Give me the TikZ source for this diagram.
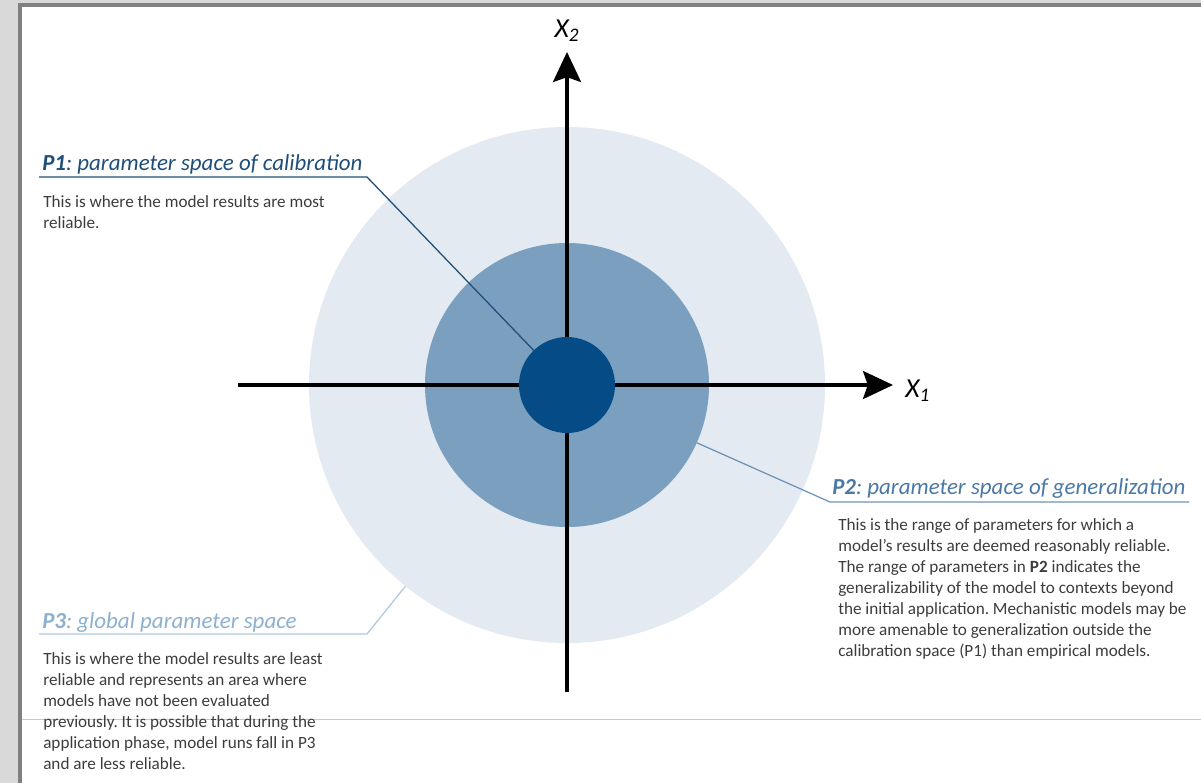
\documentclass[tikz,border=0pt]{standalone}
\usepackage{fontspec}
\setmainfont{Carlito}
\frenchspacing
\usetikzlibrary{
	positioning		% Allows 5px above/below of x style positioning
	, arrows.meta		% Stealth tips on the two axes
}

\definecolor{framelight}{RGB}{217,217,217}
\definecolor{framedark}{RGB}{128,128,128}
\definecolor{framerule}{RGB}{200,200,200}
\definecolor{globalfill}{RGB}{228,234,241}
\definecolor{genfill}{RGB}{123,160,191}
\definecolor{calfill}{RGB}{5,75,133}
\definecolor{p1blue}{RGB}{31,78,121}
\definecolor{p2blue}{RGB}{74,121,165}
\definecolor{p3blue}{RGB}{141,176,207}
\definecolor{bodygray}{RGB}{60,60,60}

\begin{document}
\begin{tikzpicture}[
				x=0.025cm, y=-0.025cm,
				region/.style={
					circle,
					draw=none,
					inner sep=0,
					minimum size=#1*0.025cm
				},
				axis/.style={
					line width=2.2pt,
					-{Stealth[length=0.75cm, width=0.7cm, inset=0.12cm]}
				},
				axislabel/.style={
					inner sep=0,
					font=\fontsize{19.5}{21}\selectfont\itshape
				},
				title/.style={
					anchor=base west,
					inner sep=0,
					font=\fontsize{16.3}{19}\selectfont\itshape
				},
				% multi-line nodes: the base anchor is the last line
				body/.style={
					anchor=base west,
					align=left,
					inner sep=0,
					text=bodygray,
					font=\fontsize{12.2}{14.9}\selectfont
				},
				leader/.style={
					line width=0.9pt
				}]

			\useasboundingbox (0,0) rectangle (1201,783);

			%%% Window frame
			\fill [framelight] (0,0) rectangle (1201,3);
			\fill [framelight] (0,0) rectangle (18,783);
			\draw [framedark, line width=2.8pt] (20,783) -- (20,5) -- (1201,5);
			\draw [framerule, line width=0.7pt] (22,719) -- (1201,719);

			%%% Parameter spaces, outer two first
			\coordinate (origin) at (567,385);
			\foreach \region/\size/\tone in {globalspace/516/globalfill, genspace/284/genfill} {
				\node [region=\size, fill=\tone] (\region) at (origin) {};
			};

			%%% Axes
			\coordinate (xleft) at (238,385);
			\coordinate (xright) at (893,385);
			\coordinate (ybottom) at (567,692);
			\coordinate (ytop) at (567,52);
			\draw [axis] (xleft) -- (xright);
			\draw [axis] (ybottom) -- (ytop);
			\node [axislabel, right=0.3cm of xright, yshift=-4pt] (xone) {X\textsubscript{1}};
			\node [axislabel, above=0.25cm of ytop] (xtwo) {X\textsubscript{2}};

			% Calibration space sits on top of the axes
			\node [region=96, fill=calfill] (calspace) at (origin) {};

			%%% P1
			\node [title, text=p1blue] (p1title) at (42,170) {\textbf{P1}: parameter space of calibration};
			\node [body] (p1text) at (43,228) {This is where the model results are most\\reliable.};
			\coordinate (p1start) at (39,177);
			\coordinate (p1end) at (367,177);
			\draw [leader, draw=p1blue] (p1start) -- (p1end) -- (calspace);

			%%% P2
			\node [title, text=p2blue] (p2title) at (832,494) {\textbf{P2}: parameter space of generalization};
			\node [body] (p2text) at (838,656) {This is the range of parameters for which a\\model's results are deemed reasonably reliable.\\The range of parameters in \textbf{P2} indicates the\\generalizability of the model to contexts beyond\\the initial application. Mechanistic models may be\\more amenable to generalization outside the\\calibration space (P1) than empirical models.};
			\coordinate (p2start) at (830,502);
			\coordinate (p2end) at (1189,502);
			\draw [leader, draw=p2blue!80] (p2end) -- (p2start) -- (genspace);

			%%% P3
			\node [title, text=p3blue] (p3title) at (42,628) {\textbf{P3}: global parameter space};
			\node [body] (p3text) at (43,769) {This is where the model results are least\\reliable and represents an area where\\models have not been evaluated\\previously. It is possible that during the\\application phase, model runs fall in P3\\and are less reliable.};
			\coordinate (p3start) at (39,634);
			\coordinate (p3end) at (367,634);
			\draw [leader, draw=p3blue!70] (p3start) -- (p3end) -- (globalspace);

		\end{tikzpicture}
\end{document}
